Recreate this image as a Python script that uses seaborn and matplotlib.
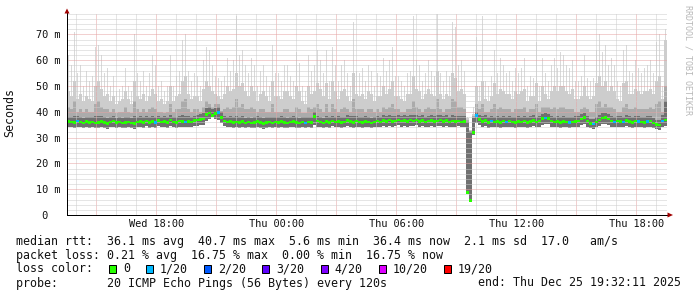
import numpy as np
import pandas as pd
import matplotlib
matplotlib.use("Agg")
import matplotlib.pyplot as plt
import seaborn as sns
from matplotlib.path import Path
from matplotlib.patches import Rectangle, Polygon
from matplotlib.transforms import blended_transform_factory

# ---------------- data (ms), one value per 9-minute step ----------------
START_H = 13 + 32 / 60 + 11 / 3600      # Wed 13:32:11 (hours from Wed 00:00)
STEP_H = 0.15                           # 9 minutes

median_ms = [
    36.2, 36.0, 35.8, 36.4, 36.1, 35.7, 36.3, 35.9, 36.0, 35.6,
    35.9, 36.2, 35.8, 35.5, 36.1, 36.4, 35.8, 36.0, 35.6, 35.9,
    36.1, 35.7, 35.4, 36.0, 36.3, 35.8, 36.5, 35.9, 36.2, 35.8,
    36.6, 36.0, 36.3, 35.8, 36.9, 36.1, 35.9, 36.4, 36.2, 36.0,
    36.3, 36.1, 36.6, 36.8, 37.0, 37.2, 39.0, 39.6, 38.6, 39.4,
    39.8, 37.8, 36.4, 36.0, 36.3, 35.8, 36.1, 35.9, 36.2, 35.7,
    36.0, 35.6, 35.9, 36.2, 35.8, 35.5, 35.9, 36.1, 35.7, 36.0,
    35.8, 36.2, 35.9, 35.6, 36.0, 36.3, 35.8, 35.7, 36.0, 35.6,
    36.1, 35.9, 38.2, 36.4, 36.0, 35.7, 36.2, 35.9, 36.5, 36.1,
    36.3, 35.8, 36.0, 36.6, 36.2, 35.9, 36.4, 36.1, 35.8, 36.3,
    36.0, 35.7, 36.1, 36.4, 36.0, 36.6, 36.2, 36.8, 36.3, 36.5,
    36.9, 36.4, 36.7, 36.2, 36.8, 36.5, 36.9, 36.3, 36.6, 36.1,
    36.4, 36.7, 36.2, 36.5, 36.8, 36.3, 36.6, 36.0, 36.4, 36.2,
    36.5, 36.0, 36.3, 8.8, 5.6, 32.0, 38.6, 37.0, 36.2, 36.6,
    35.8, 36.4, 36.0, 36.3, 35.9, 36.5, 36.1, 36.4, 36.0, 35.8,
    36.2, 36.0, 36.4, 35.9, 36.3, 36.6, 36.1, 36.4, 37.4, 37.6,
    37.5, 36.4, 36.0, 36.3, 35.9, 36.2, 36.1, 35.8, 36.0, 36.3,
    36.4, 37.2, 37.8, 36.5, 35.4, 35.2, 36.0, 36.8, 37.6, 37.8,
    37.2, 36.4, 36.0, 36.5, 36.2, 36.0, 36.6, 36.3, 35.9, 36.4,
    36.2, 36.0, 35.8, 36.3, 36.5, 35.6, 35.0, 34.8, 36.4, 36.8,
]

loss_20 = [
    0, 0, 0, 1, 0, 0, 0, 0, 0, 0,
    0, 0, 0, 0, 0, 0, 0, 0, 0, 0,
    0, 0, 0, 0, 0, 0, 0, 0, 0, 1,
    0, 0, 0, 0, 0, 0, 0, 0, 0, 1,
    0, 0, 0, 0, 0, 0, 0, 0, 0, 0,
    1, 0, 0, 0, 0, 0, 0, 0, 0, 0,
    0, 0, 0, 0, 0, 0, 0, 0, 0, 0,
    0, 0, 0, 0, 0, 0, 0, 0, 0, 1,
    0, 0, 0, 0, 0, 0, 0, 0, 0, 0,
    0, 0, 0, 0, 0, 0, 0, 0, 0, 0,
    0, 0, 0, 0, 0, 0, 0, 0, 0, 0,
    0, 0, 0, 0, 0, 0, 0, 0, 0, 0,
    0, 0, 0, 0, 0, 0, 0, 0, 0, 0,
    0, 0, 0, 0, 0, 0, 1, 0, 0, 0,
    0, 1, 0, 0, 0, 0, 1, 0, 0, 0,
    0, 0, 0, 0, 0, 0, 0, 0, 0, 1,
    0, 0, 0, 0, 0, 0, 0, 1, 0, 0,
    0, 0, 0, 0, 0, 1, 0, 0, 0, 0,
    0, 0, 1, 0, 0, 1, 0, 0, 0, 0,
    1, 0, 0, 1, 0, 0, 0, 0, 1, 0,
]

min_ms = [
    34.2, 34.0, 33.8, 34.3, 34.1, 33.7, 34.2, 33.9, 34.0, 33.6,
    33.9, 34.1, 33.8, 33.5, 34.0, 34.3, 33.8, 34.0, 33.6, 33.9,
    34.0, 33.7, 33.5, 34.0, 34.2, 33.8, 34.4, 33.9, 34.1, 33.8,
    34.4, 34.0, 34.2, 33.8, 34.6, 34.1, 33.9, 34.3, 34.1, 34.0,
    34.2, 34.1, 34.4, 34.6, 34.8, 35.0, 36.6, 37.2, 38.2, 37.4,
    37.0, 35.6, 34.4, 34.0, 34.2, 33.8, 34.0, 33.9, 34.1, 33.7,
    34.0, 33.6, 33.9, 34.1, 33.8, 33.5, 33.9, 34.0, 33.7, 34.0,
    33.8, 34.1, 33.9, 33.6, 34.0, 34.2, 33.8, 33.7, 34.0, 33.6,
    34.0, 33.9, 35.0, 34.3, 34.0, 33.7, 34.1, 33.9, 34.4, 34.0,
    34.2, 33.8, 34.0, 34.4, 34.1, 33.9, 34.3, 34.0, 33.8, 34.2,
    34.0, 33.7, 34.0, 34.3, 34.0, 34.4, 34.1, 34.6, 34.2, 34.4,
    34.7, 34.3, 34.5, 34.1, 34.6, 34.4, 34.7, 34.2, 34.5, 34.0,
    34.3, 34.5, 34.1, 34.4, 34.6, 34.2, 34.5, 34.0, 34.3, 34.1,
    34.4, 34.0, 34.2, 8.2, 5.0, 31.0, 35.5, 35.0, 34.1, 34.4,
    33.8, 34.2, 34.0, 34.2, 33.9, 34.3, 34.0, 34.2, 34.0, 33.8,
    34.1, 34.0, 34.2, 33.9, 34.2, 34.4, 34.0, 34.2, 35.0, 35.2,
    35.1, 34.2, 34.0, 34.2, 33.9, 34.1, 34.0, 33.8, 34.0, 34.2,
    34.2, 34.8, 35.3, 34.3, 33.6, 33.4, 34.0, 34.6, 35.2, 35.4,
    34.8, 34.2, 34.0, 34.3, 34.1, 34.0, 34.4, 34.2, 33.9, 34.2,
    34.1, 34.0, 33.8, 34.2, 34.3, 33.6, 33.2, 33.0, 34.2, 34.5,
]

inner_ms = [   # darkest smoke band top
    38.0, 37.8, 38.5, 38.2, 38.0, 37.6, 38.1, 37.8, 37.9, 38.3,
    38.4, 38.2, 37.8, 37.6, 38.0, 38.3, 37.7, 37.9, 37.6, 38.0,
    38.0, 37.6, 38.4, 37.9, 38.2, 37.8, 38.4, 37.9, 38.3, 37.8,
    38.4, 38.0, 38.2, 37.8, 38.8, 38.1, 37.9, 38.3, 38.6, 38.5,
    38.3, 38.0, 38.5, 38.8, 39.0, 39.5, 41.5, 41.8, 41.0, 41.6,
    41.8, 39.8, 38.4, 38.0, 38.3, 37.8, 38.4, 37.9, 38.2, 37.7,
    38.0, 37.7, 37.9, 38.2, 37.8, 37.5, 37.9, 38.1, 38.0, 37.9,
    37.8, 38.2, 37.9, 37.7, 38.0, 38.3, 37.9, 37.7, 37.9, 37.8,
    38.1, 37.9, 40.0, 38.4, 38.0, 37.7, 38.2, 37.9, 38.5, 38.1,
    38.3, 37.8, 38.0, 38.6, 38.2, 38.2, 38.4, 38.1, 37.8, 38.3,
    38.0, 37.7, 38.1, 38.4, 38.0, 38.6, 38.2, 38.8, 38.5, 38.5,
    38.9, 38.4, 38.7, 38.2, 38.8, 38.7, 38.9, 38.3, 38.6, 38.1,
    38.4, 38.7, 38.2, 38.8, 38.8, 38.3, 38.6, 38.0, 38.6, 38.4,
    38.5, 38.2, 38.3, 36.0, 32.0, 37.5, 40.0, 38.8, 38.2, 38.6,
    37.8, 38.4, 38.0, 38.3, 37.9, 38.5, 38.1, 38.4, 38.0, 37.8,
    38.2, 38.0, 38.4, 37.9, 38.3, 38.6, 38.1, 38.4, 39.2, 39.4,
    39.3, 38.4, 38.0, 38.3, 37.9, 38.2, 38.1, 37.8, 38.0, 38.3,
    38.4, 39.0, 39.6, 38.5, 37.4, 37.2, 38.0, 38.8, 39.4, 39.6,
    39.0, 38.4, 38.0, 38.5, 38.2, 38.0, 38.6, 38.3, 37.9, 38.4,
    38.2, 38.0, 37.8, 38.3, 38.5, 37.6, 37.0, 37.0, 38.6, 44.0,
]

upper_ms = [   # medium-dark smoke band top
    42, 41, 44, 40, 41, 40, 41, 40, 40, 43,
    44, 42, 41, 41, 40, 41, 39.5, 40, 40, 42,
    40, 39.5, 44, 41, 40, 41, 40, 41, 42, 41,
    40, 40, 39.5, 40, 43, 40, 41, 41, 44, 45,
    41, 40, 41, 41, 40, 42, 44, 43, 42, 43,
    43, 40.5, 41, 42, 41, 42, 45, 42, 43, 41,
    41, 42, 41, 40, 41, 41, 40, 40, 43, 40,
    40, 40, 41, 41, 40, 40, 42, 41, 39.5, 39.5,
    42, 41, 42, 43, 41, 40, 43, 40, 43, 41,
    40, 41, 42, 41, 40, 45, 41, 41, 41, 40,
    41, 41, 40, 41, 40, 42, 41, 42, 43, 41,
    41, 40, 40, 41, 41, 44, 42, 41, 40, 41,
    42, 41, 41, 45, 41, 40, 41, 41, 45, 44,
    42, 42, 41, 37, 32.5, 38.5, 43, 41, 43, 40,
    40, 41, 43, 41, 42, 41, 41, 41, 40, 41,
    41, 41, 42, 40, 41, 41, 43, 40, 42, 42,
    42, 41, 42, 41, 42, 42, 41, 41, 41, 40,
    40, 41, 42, 41, 40, 40, 43, 44, 42, 43,
    42, 42, 41, 40, 40, 42, 43, 41, 41, 42,
    41, 41, 41, 41, 42, 41, 43, 44, 40, 50,
]

outer_ms = [   # light-medium smoke band top
    48, 46, 52, 45, 47, 44, 46, 45, 44, 50,
    52, 49, 46, 47, 44, 46, 43, 44, 45, 48,
    45, 43, 52, 46, 45, 47, 44, 46, 49, 47,
    44, 45, 43, 44, 50, 44, 46, 47, 52, 54,
    47, 45, 46, 46, 44, 49, 52, 50, 48, 47,
    46, 45, 47, 50, 48, 49, 55, 50, 51, 48,
    46, 50, 48, 44, 47, 48, 46, 44, 52, 46,
    46, 45, 48, 48, 46, 45, 50, 48, 44, 43,
    50, 47, 48, 51, 49, 46, 51, 45, 52, 48,
    45, 48, 49, 46, 44, 55, 47, 46, 47, 45,
    48, 47, 44, 46, 46, 50, 47, 49, 52, 46,
    46, 45, 44, 47, 47, 54, 49, 48, 45, 47,
    49, 47, 46, 56, 47, 45, 47, 46, 55, 53,
    48, 49, 47, 37.5, 32.8, 39, 50, 44, 52, 45,
    44, 46, 51, 47, 49, 48, 47, 47, 45, 48,
    47, 48, 49, 44, 46, 46, 51, 44, 50, 47,
    45, 48, 50, 48, 50, 50, 48, 47, 49, 45,
    45, 46, 50, 46, 45, 46, 51, 54, 50, 52,
    48, 50, 48, 45, 44, 51, 52, 47, 47, 49,
    48, 47, 48, 48, 49, 47, 52, 54, 45, 68,
]

max_ms = [
    62, 58, 71, 55, 58, 50, 56, 52, 54, 65,
    66, 62, 55, 57, 50, 54, 48, 49, 50, 57,
    50, 48, 70, 55, 52, 56, 50, 55, 62, 58,
    50, 52, 48, 50, 62, 50, 54, 56, 68, 70,
    56, 52, 55, 54, 50, 60, 65, 64, 58, 54,
    53, 52, 54, 61, 56, 60, 77, 62, 64, 58,
    55, 61, 58, 50, 56, 58, 54, 50, 66, 55,
    55, 52, 58, 58, 54, 52, 63, 59, 50, 48,
    62, 56, 58, 64, 60, 55, 64, 52, 65, 58,
    52, 58, 60, 55, 50, 75, 56, 55, 57, 52,
    58, 56, 50, 55, 54, 61, 56, 60, 65, 54,
    54, 52, 50, 55, 56, 77, 60, 58, 52, 55,
    60, 56, 54, 78, 55, 52, 56, 54, 75, 73,
    58, 60, 56, 38, 33, 42, 69, 50, 77, 52,
    50, 54, 64, 55, 61, 58, 55, 56, 52, 57,
    55, 57, 61, 50, 54, 53, 67, 50, 61, 55,
    52, 58, 61, 57, 63, 62, 58, 57, 60, 52,
    52, 54, 62, 53, 52, 53, 64, 70, 63, 66,
    58, 61, 58, 52, 50, 64, 66, 56, 55, 60,
    57, 55, 57, 58, 60, 55, 67, 70, 50, 72,
]

x_tick_hours = [18, 24, 30, 36, 42]
x_tick_labels = ["Wed 18:00", "Thu 00:00", "Thu 06:00", "Thu 12:00", "Thu 18:00"]
y_ticks = [0, 10, 20, 30, 40, 50, 60, 70]
y_tick_labels = [" 0", "10 m", "20 m", "30 m", "40 m", "50 m", "60 m", "70 m"]

legend_lines = [
    "median rtt:  36.1 ms avg  40.7 ms max  5.6 ms min  36.4 ms now  2.1 ms sd  17.0   am/s",
    "packet loss: 0.21 % avg  16.75 % max  0.00 % min  16.75 % now",
    "loss color:",
    "probe:       20 ICMP Echo Pings (56 Bytes) every 120s",
]
end_text = "end: Thu Dec 25 19:32:11 2025"
loss_labels = ["0", "1/20", "2/20", "3/20", "4/20", "10/20", "19/20"]
loss_colors = ["#26ff00", "#00b8ff", "#0059ff", "#5e00ff", "#7e00ff", "#dd00ff", "#ff0000"]

# ---------------- figure ----------------
sns.set_style("white")
plt.rcParams["font.family"] = ["DejaVu Sans Mono", "DejaVu Sans"]

W, H = 697, 297
fig = plt.figure(figsize=(W / 100, H / 100), dpi=100)
fig.patch.set_facecolor("white")
ax = fig.add_axes([67 / W, 82 / H, 600 / W, 202 / H])
ax.set_facecolor("white")

n = len(median_ms)
t_left = START_H + STEP_H * np.arange(n)
t_mid = t_left + STEP_H / 2
lo = np.array(min_ms, dtype=float)

# smoke: thin light spikes for maxima, narrower streaks, full-width core
ax.bar(t_mid, np.array(max_ms, dtype=float) - lo, bottom=lo, width=STEP_H * 0.45,
       align="center", color="#d9d9d9", linewidth=0, antialiased=False, zorder=1)
ax.bar(t_mid, np.array(outer_ms, dtype=float) - lo, bottom=lo, width=STEP_H * 0.75,
       align="center", color="#cdcdcd", linewidth=0, antialiased=False, zorder=1)
for top, col in [(upper_ms, "#ababab"), (inner_ms, "#707070")]:
    ax.bar(t_left, np.array(top, dtype=float) - lo, bottom=lo, width=STEP_H,
           align="edge", color=col, linewidth=0, antialiased=False, zorder=1)

# grid (dotted, drawn over smoke)
for h in range(14, 44):
    major = (h % 3 == 0)
    ax.axvline(h, color="#e6a3a3" if major else "#cdcdcd", lw=0.72,
               ls=(0, (1, 1)), zorder=2)
for v in range(2, 79, 2):
    major = (v % 10 == 0)
    ax.axhline(v, color="#e6a3a3" if major else "#cdcdcd", lw=0.72,
               ls=(0, (1, 1)), zorder=2)

# median coloured by loss
df = pd.DataFrame({"t": t_mid, "median": median_ms, "loss": loss_20})
rect = Path([(-1.5, -1.1), (1.5, -1.1), (1.5, 1.1), (-1.5, 1.1), (-1.5, -1.1)],
            [Path.MOVETO, Path.LINETO, Path.LINETO, Path.LINETO, Path.CLOSEPOLY])
sns.scatterplot(data=df, x="t", y="median", hue="loss",
                palette={0: loss_colors[0], 1: loss_colors[1]},
                marker=rect, s=6.0, linewidth=0, legend=False, ax=ax, zorder=4)

ax.set_xlim(START_H, START_H + n * STEP_H)
ax.set_ylim(0, 78.3)
ax.set_xlabel("")
ax.set_ylabel("")
ax.set_xticks(x_tick_hours)
ax.set_xticklabels(x_tick_labels)
ax.set_yticks(y_ticks)
ax.set_yticklabels([])
ax.tick_params(axis="x", labelsize=7.4, length=1.8, width=0.72, direction="out",
               color="black", pad=0.8, labelcolor="#111111")
ax.tick_params(axis="y", length=1.8, width=0.72, direction="out", color="black")
for s in ["top", "right"]:
    ax.spines[s].set_visible(False)
for s in ["left", "bottom"]:
    ax.spines[s].set_color("black")
    ax.spines[s].set_linewidth(0.72)
    ax.spines[s].set_zorder(5)

tr = blended_transform_factory(fig.transFigure, ax.transData)
for v, lab in zip(y_ticks, y_tick_labels):
    ax.text(35.5 / W, v, lab, transform=tr, ha="left", va="center_baseline",
            fontsize=7.4, color="#111111")

def px(x, y):
    return (x / W, 1 - y / H)

# arrows
fig.add_artist(Polygon([px(64.5, 13.5), px(69.5, 13.5), px(67, 8.5)], closed=True,
                       transform=fig.transFigure, facecolor="#a00000", edgecolor="none"))
fig.add_artist(Polygon([px(667.5, 212.5), px(667.5, 217.5), px(673, 215)], closed=True,
                       transform=fig.transFigure, facecolor="#a00000", edgecolor="none"))

# labels
fig.text(*px(10, 113), "Seconds", rotation=90, ha="center", va="center",
         fontsize=8.4, color="#111111")
fig.text(*px(688, 60), "RRDTOOL / TOBI OETIKER", rotation=270, ha="center",
         va="center", fontsize=6.0, color="#b8b8b8")

line_y = [241, 255, 269, 283]
for txt, y in zip(legend_lines, line_y):
    fig.text(*px(16, y), txt, ha="left", va="center", fontsize=8.4, color="#111111")
fig.text(*px(681, line_y[3]), end_text, ha="right", va="center", fontsize=8.4,
         color="#111111")

PITCH = 7.05
sq_x = 109.0
for lab, col in zip(loss_labels, loss_colors):
    fig.add_artist(Rectangle(px(sq_x, line_y[2] + 4), 7 / W, 8 / H,
                             transform=fig.transFigure, facecolor=col,
                             edgecolor="black", linewidth=0.72))
    lab_x = sq_x + 14
    fig.text(*px(lab_x, line_y[2]), lab, ha="left", va="center", fontsize=8.4,
             color="#111111")
    sq_x = lab_x + len(lab) * PITCH + 16

fig.savefig("out.png", dpi=100, facecolor="white")
